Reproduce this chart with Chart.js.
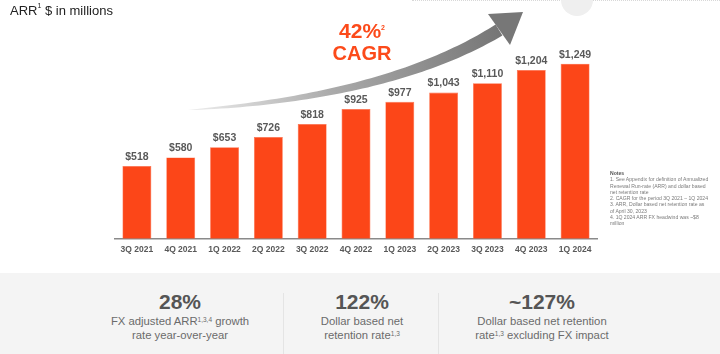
<!DOCTYPE html>
<html>
<head>
<meta charset="utf-8">
<script src="https://cdn.jsdelivr.net/npm/chart.js@4.4.1/dist/chart.umd.min.js"></script>
<style>
  html, body { margin:0; padding:0; background:#fff; }
  body { width:720px; height:354px; position:relative; overflow:hidden; font-family:"Liberation Sans", Arial, sans-serif; }
  #wrap { position:absolute; left:0; top:0; width:720px; height:354px; }
  .title { position:absolute; left:10px; top:3px; font-size:13px; color:#222; }
  .title sup { font-size:7px; vertical-align:top; position:relative; top:-1px; }
  .cagr { position:absolute; left:302px; top:20px; width:120px; text-align:center; color:#fc4a1a; font-weight:bold; line-height:22px; }
  .cagr .p { font-size:21px; }
  .cagr .c { font-size:20px; }
  .cagr sup { font-size:7px; vertical-align:top; position:relative; top:-3px; }
  .notes { position:absolute; left:610px; top:170px; width:110px; font-size:5.1px; line-height:6.3px; color:#7a7a7a; white-space:nowrap; }
  .notes b { color:#555; }
  .panel { position:absolute; left:0; top:273px; width:720px; height:81px; background:#f4f4f4; }
  .div { position:absolute; top:20px; width:1px; height:61px; background:#e4e4e4; }
  .stat { position:absolute; top:16px; width:180px; text-align:center; }
  .stat .big { font-size:21px; font-weight:bold; color:#555; line-height:25px; }
  .stat .sm { font-size:11.3px; color:#6b6b6b; line-height:14px; }
  .stat sup { font-size:6.5px; vertical-align:top; position:relative; top:-1px; }
  .dots { position:absolute; left:412px; top:0; width:308px; height:1px; border-top:1px dotted #d8d8d8; }
  .circle { position:absolute; left:561px; top:-16px; width:32px; height:32px; border-radius:50%; background:#efefef; }
</style>
</head>
<body>
<div id="wrap">
  <div class="dots"></div>
  <div class="circle"></div>
  <canvas id="c" width="720" height="354"></canvas>
  <div class="title">ARR<sup>1</sup> $ in millions</div>
  <div class="cagr"><div class="p">42%<sup>2</sup></div><div class="c">CAGR</div></div>
  <div class="notes"><b>Notes</b><br>1. See Appendix for definition of Annualized<br>Renewal Run-rate (ARR) and dollar based<br>net retention rate<br>2. CAGR for the period 3Q 2021 – 1Q 2024<br>3. ARR, Dollar based net retention rate as<br>of April 30, 2023<br>4. 1Q 2024 ARR FX headwind was ~$8<br>million</div>
  <div class="panel">
    <div class="div" style="left:283px"></div>
    <div class="div" style="left:438px"></div>
    <div class="stat" style="left:90px"><div class="big">28%</div><div class="sm">FX adjusted ARR<sup>1,3,4</sup> growth<br>rate year-over-year</div></div>
    <div class="stat" style="left:272px"><div class="big">122%</div><div class="sm">Dollar based net<br>retention rate<sup>1,3</sup></div></div>
    <div class="stat" style="left:452px"><div class="big">~127%</div><div class="sm">Dollar based net retention<br>rate<sup>1,3</sup> excluding FX impact</div></div>
  </div>
</div>
<script>
const categories = ["3Q 2021","4Q 2021","1Q 2022","2Q 2022","3Q 2022","4Q 2022","1Q 2023","2Q 2023","3Q 2023","4Q 2023","1Q 2024"];
const arrValues = [518, 580, 653, 726, 818, 925, 977, 1043, 1110, 1204, 1249];
const yMax = 1500;

const barLabels = {
  id: 'barLabels',
  afterDatasetsDraw(chart) {
    const ctx = chart.ctx;
    const meta = chart.getDatasetMeta(0);
    ctx.save();
    ctx.font = 'bold 10.5px "Liberation Sans", Arial, sans-serif';
    ctx.fillStyle = '#595959';
    ctx.textAlign = 'center';
    ctx.textBaseline = 'middle';
    meta.data.forEach((bar, i) => {
      ctx.fillText('$' + arrValues[i].toLocaleString('en-US'), bar.x, bar.y - 9);
    });
    ctx.restore();
  }
};

const arrow = {
  id: 'arrow',
  beforeDatasetsDraw(chart) {
    const ctx = chart.ctx;
    const P0 = {x:188, y:110}, C = {x:390, y:97}, P2 = {x:499, y:30};
    const N = 60, maxW = 13;
    const up = [], dn = [];
    for (let i = 0; i <= N; i++) {
      const t = i / N;
      const x = (1-t)*(1-t)*P0.x + 2*(1-t)*t*C.x + t*t*P2.x;
      const y = (1-t)*(1-t)*P0.y + 2*(1-t)*t*C.y + t*t*P2.y;
      const dx = 2*(1-t)*(C.x-P0.x) + 2*t*(P2.x-C.x);
      const dy = 2*(1-t)*(C.y-P0.y) + 2*t*(P2.y-C.y);
      const l = Math.hypot(dx, dy);
      const nx = -dy / l, ny = dx / l;
      const w = maxW * Math.pow(t, 0.7) / 2;
      up.push([x + nx*w, y + ny*w]);
      dn.push([x - nx*w, y - ny*w]);
    }
    const g = ctx.createLinearGradient(P0.x, P0.y, P2.x, P2.y);
    g.addColorStop(0, 'rgba(238,238,238,1)');
    g.addColorStop(0.45, 'rgba(170,170,170,1)');
    g.addColorStop(1, 'rgba(118,118,118,1)');
    ctx.save();
    ctx.fillStyle = g;
    ctx.beginPath();
    up.forEach((p, i) => i ? ctx.lineTo(p[0], p[1]) : ctx.moveTo(p[0], p[1]));
    for (let i = dn.length - 1; i >= 0; i--) ctx.lineTo(dn[i][0], dn[i][1]);
    ctx.closePath();
    ctx.fill();
    ctx.fillStyle = '#777';
    ctx.beginPath();
    ctx.moveTo(523, 12);
    ctx.lineTo(488, 14);
    ctx.lineTo(510, 45);
    ctx.closePath();
    ctx.fill();
    ctx.restore();
  }
};

new Chart(document.getElementById('c'), {
  type: 'bar',
  data: {
    labels: categories,
    datasets: [{
      data: arrValues,
      backgroundColor: '#fc4618',
      borderColor: '#fd6a45',
      borderWidth: 0.6,
      barPercentage: 0.66,
      categoryPercentage: 1.0
    }]
  },
  options: {
    responsive: false,
    animation: false,
    devicePixelRatio: 1,
    layout: { padding: { left: 115, right: 123, top: 28.5, bottom: 95.3 } },
    plugins: { legend: { display: false }, tooltip: { enabled: false }, title: { display: false } },
    scales: {
      x: {
        grid: { display: false, drawTicks: false },
        border: { display: true, color: '#8a8a8a', width: 1.5 },
        ticks: { color: '#595959', font: { family: '"Liberation Sans", Arial, sans-serif', size: 8.5, weight: 'bold' }, padding: 6, maxRotation: 0, autoSkip: false },
        afterFit(scale) { scale.height = 20; }
      },
      y: { display: false, min: 0, max: yMax }
    }
  },
  plugins: [arrow, barLabels]
});
</script>
</body>
</html>
